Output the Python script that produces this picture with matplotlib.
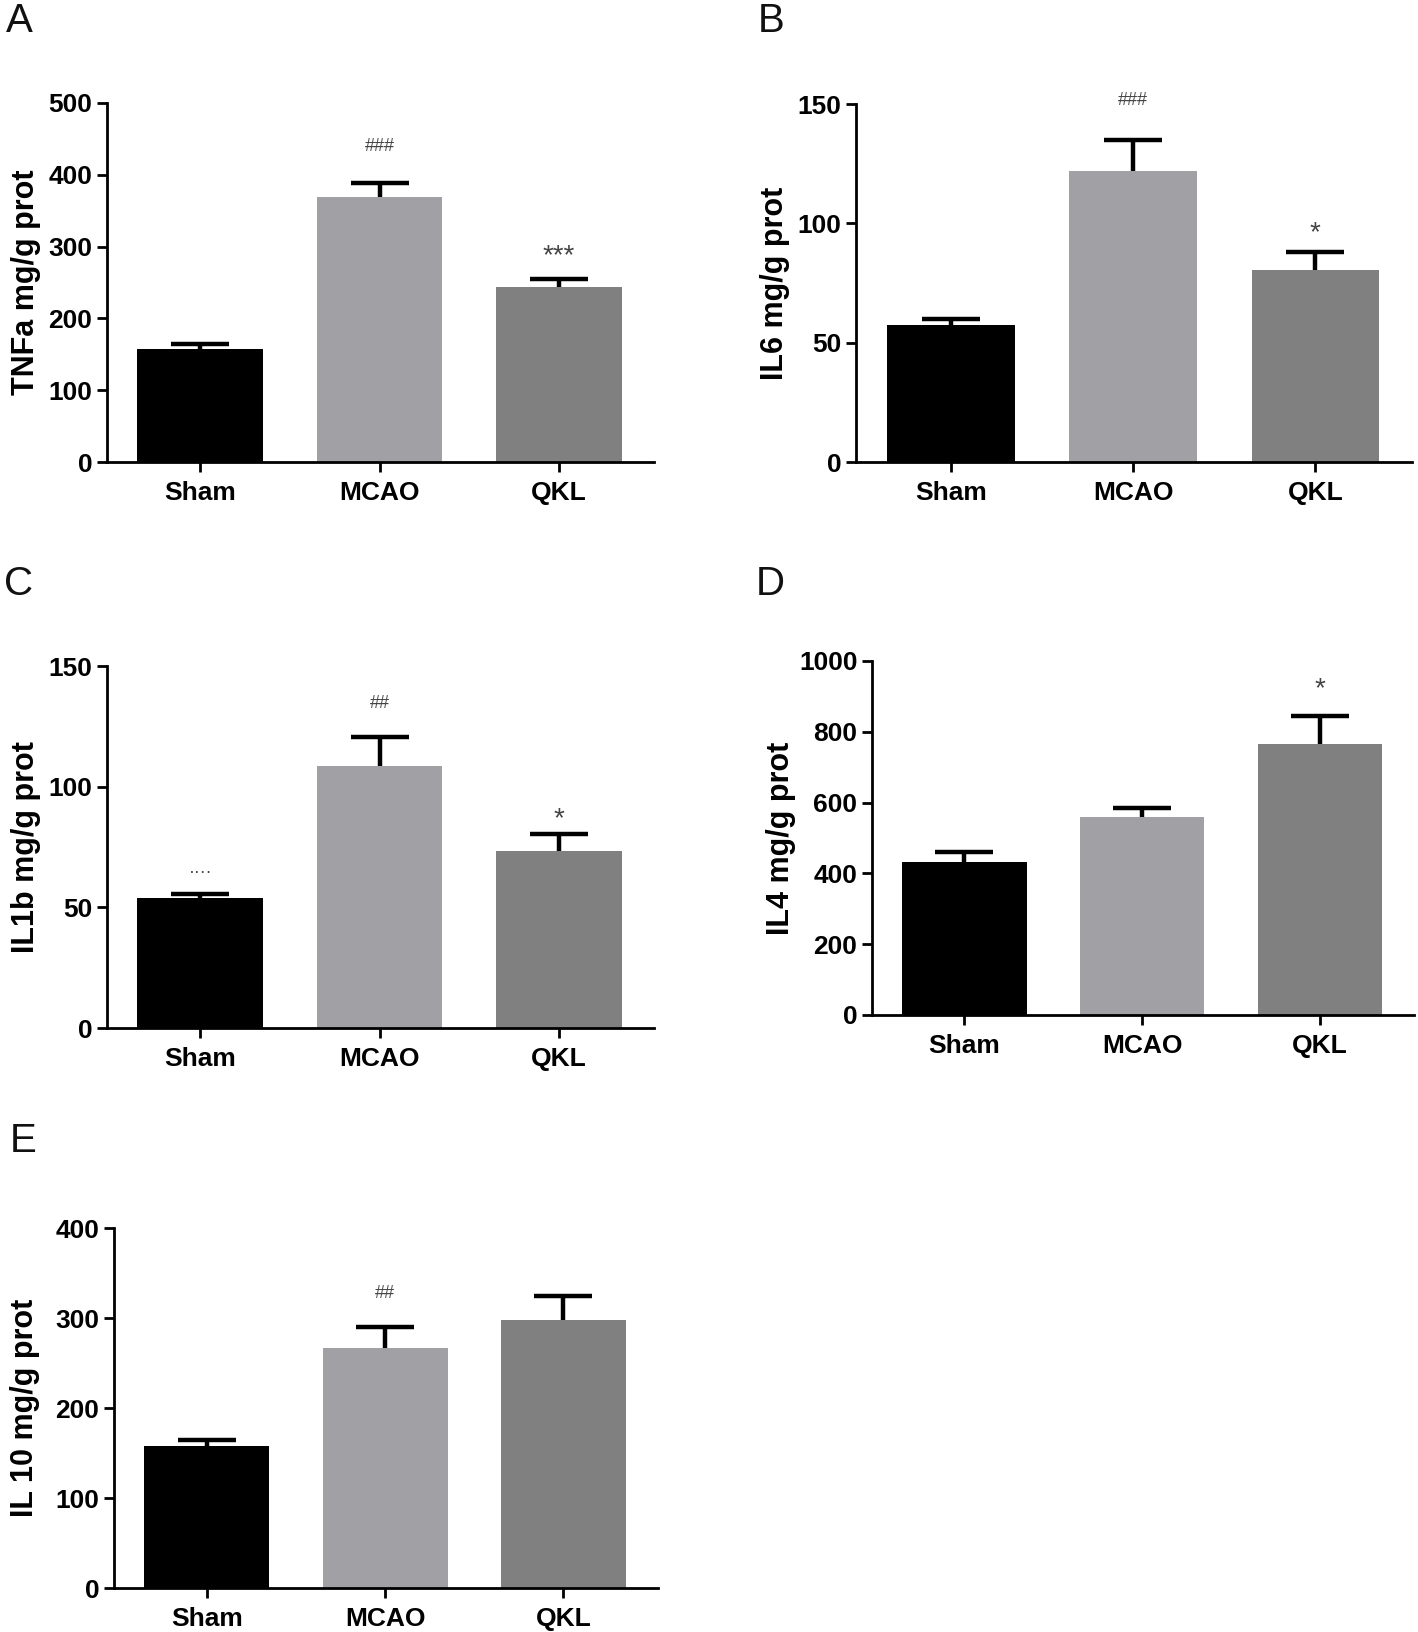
import matplotlib
matplotlib.use("Agg")
import matplotlib.pyplot as plt
import numpy as np

plt.rcParams['font.family'] = ['Liberation Sans', 'DejaVu Sans']

groups = ["Sham", "MCAO", "QKL"]
colors = ["#000000", "#a0a0a5", "#808080"]

tnfa_mean = [157, 369, 244]
tnfa_err = [8, 19, 11]
il6_mean = [57.5, 122, 80.5]
il6_err = [2.5, 13, 7.5]
il1b_mean = [54, 108.5, 73.5]
il1b_err = [1.5, 12, 7]
il4_mean = [432, 558, 765]
il4_err = [28, 27, 80]
il10_mean = [158, 267, 298]
il10_err = [7, 23, 27]

panels = [
    dict(letter="A", label="TNFa mg/g prot", mean=tnfa_mean, err=tnfa_err,
         ymax=500, step=100, ann=["", "###", "***"], ann_y=[None, 439, 286],
         box=(107, 103, 654, 462), letter_xy=(19, 21), lab_dx=-66),
    dict(letter="B", label="IL6 mg/g prot", mean=il6_mean, err=il6_err,
         ymax=150, step=50, ann=["", "###", "*"], ann_y=[None, 151.5, 96],
         box=(856, 104, 1412, 462), letter_xy=(771, 21), lab_dx=-66),
    dict(letter="C", label="IL1b mg/g prot", mean=il1b_mean, err=il1b_err,
         ymax=150, step=50, ann=["····", "##", "*"], ann_y=[64.5, 134.5, 86.5],
         box=(107, 666, 654, 1028), letter_xy=(19, 584), lab_dx=-66),
    dict(letter="D", label="IL4 mg/g prot", mean=il4_mean, err=il4_err,
         ymax=1000, step=200, ann=["", "", "*"], ann_y=[None, None, 920],
         box=(872, 661, 1414, 1015), letter_xy=(770, 584), lab_dx=-76),
    dict(letter="E", label="IL 10 mg/g prot", mean=il10_mean, err=il10_err,
         ymax=400, step=100, ann=["", "##", ""], ann_y=[None, 327, None],
         box=(114, 1228, 658, 1588), letter_xy=(23, 1141), lab_dx=-74),
]

W, H = 1418, 1632
fig = plt.figure(figsize=(W / 100, H / 100), dpi=100)

x = np.arange(len(groups))
for p in panels:
    l, t, r, b = p["box"]
    ax = fig.add_axes([l / W, 1 - b / H, (r - l) / W, (b - t) / H])
    ax.bar(x, p["mean"], width=0.70, color=colors, edgecolor="none", zorder=2)
    _, caps, _ = ax.errorbar(x, p["mean"], yerr=[np.zeros(3), p["err"]], fmt="none",
                             ecolor="black", elinewidth=3.2, capsize=21, capthick=3.2,
                             zorder=3)
    caps[0].set_visible(False)
    ax.set_xlim(-0.52, 2.53)
    ax.set_ylim(0, p["ymax"])
    ax.set_yticks(np.arange(0, p["ymax"] + 1, p["step"]))
    ax.set_xticks(x)
    ax.set_xticklabels(groups)
    for s in ["top", "right"]:
        ax.spines[s].set_visible(False)
    for s in ["left", "bottom"]:
        ax.spines[s].set_linewidth(2.0)
    ax.tick_params(axis="both", width=2.0, length=7.5, labelsize=19, pad=3)
    ax.tick_params(axis="x", pad=6)
    for lab in ax.get_xticklabels() + ax.get_yticklabels():
        lab.set_fontweight("bold")
    ax.set_ylabel(p["label"], fontsize=22, fontweight="bold")
    ax.yaxis.set_label_coords(p["lab_dx"] / (r - l), 0.5)
    for i, (a, ay) in enumerate(zip(p["ann"], p["ann_y"])):
        if a:
            fs = 20 if a.startswith("*") else 13
            ax.text(x[i], ay, a, ha="center", va="center", fontsize=fs,
                    color="#444444", clip_on=False, zorder=4)
    fig.text(p["letter_xy"][0] / W, 1 - p["letter_xy"][1] / H, p["letter"],
             ha="center", va="center", fontsize=29, color="#111111")

fig.savefig("out.png", dpi=100)
